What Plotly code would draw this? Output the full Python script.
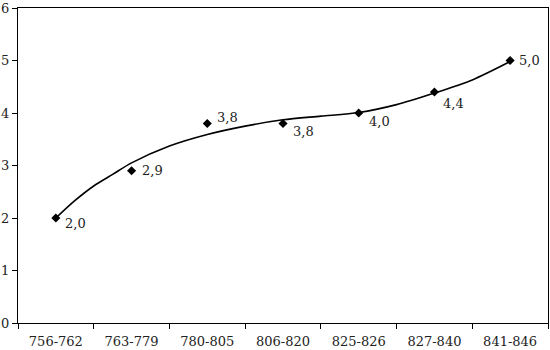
import plotly.graph_objects as go

categories = ["756-762", "763-779", "780-805", "806-820", "825-826", "827-840", "841-846"]
values = [2.0, 2.9, 3.8, 3.8, 4.0, 4.4, 5.0]
value_labels = ["2,0", "2,9", "3,8", "3,8", "4,0", "4,4", "5,0"]
# trend curve, at category-index positions
trend_pos = [0, 0.25, 0.5, 0.75, 1, 1.5, 2, 2.5, 3, 3.5, 4, 4.5, 5, 5.5, 6]
trend_values = [2.0, 2.33, 2.61, 2.83, 3.05, 3.37, 3.59, 3.75, 3.87, 3.94, 4.01, 4.16, 4.38, 4.63, 4.98]
y_ticks = [0, 1, 2, 3, 4, 5, 6]

# label offsets in pixels (style only)
label_dx = [7, 8, 8, 8, 8, 7, 7]
label_dy = [5, 0, -6, 8, 8, 11, 0]

FONT = "DejaVu Serif"

fig = go.Figure()
fig.add_trace(go.Scatter(
    x=trend_pos, y=trend_values, mode="lines", xaxis="x2",
    line=dict(color="black", width=1.6, shape="spline", smoothing=0.8),
    hoverinfo="skip", showlegend=False,
))
fig.add_trace(go.Scatter(
    x=categories, y=values, mode="markers",
    marker=dict(symbol="diamond", size=7, color="black"),
    showlegend=False,
))

for c, v, t, dx, dy in zip(categories, values, value_labels, label_dx, label_dy):
    fig.add_annotation(
        x=c, y=v, text=t, showarrow=False, xanchor="left", yanchor="middle",
        xshift=dx, yshift=-dy, font=dict(family=FONT, size=13, color="#222"),
    )

fig.update_layout(
    width=550, height=350,
    margin=dict(l=18, r=1, t=6, b=27),
    paper_bgcolor="white", plot_bgcolor="white",
    font=dict(family=FONT, size=13, color="#222"),
    xaxis2=dict(overlaying="x", range=[-0.5, 6.5], visible=False),
)
fig.layout.xaxis.update(
    type="category", tickson="boundaries", ticks="outside", ticklen=5,
    tickcolor="black", tickwidth=1, ticklabelstandoff=6,
    showline=True, linecolor="black", linewidth=1.2, mirror=True,
    showgrid=False, zeroline=False, range=[-0.5, 6.5],
    tickfont=dict(family=FONT, size=13, color="#222"),
)
fig.update_yaxes(
    range=[0, 6], tickvals=y_ticks, ticktext=[str(v) for v in y_ticks],
    ticks="outside", ticklen=5, tickcolor="black", tickwidth=1,
    ticklabeloverflow="allow",
    showline=True, linecolor="black", linewidth=1.2, mirror=True,
    showgrid=False, zeroline=False,
    tickfont=dict(family=FONT, size=13, color="#222"),
)

fig.write_html("out.html")
